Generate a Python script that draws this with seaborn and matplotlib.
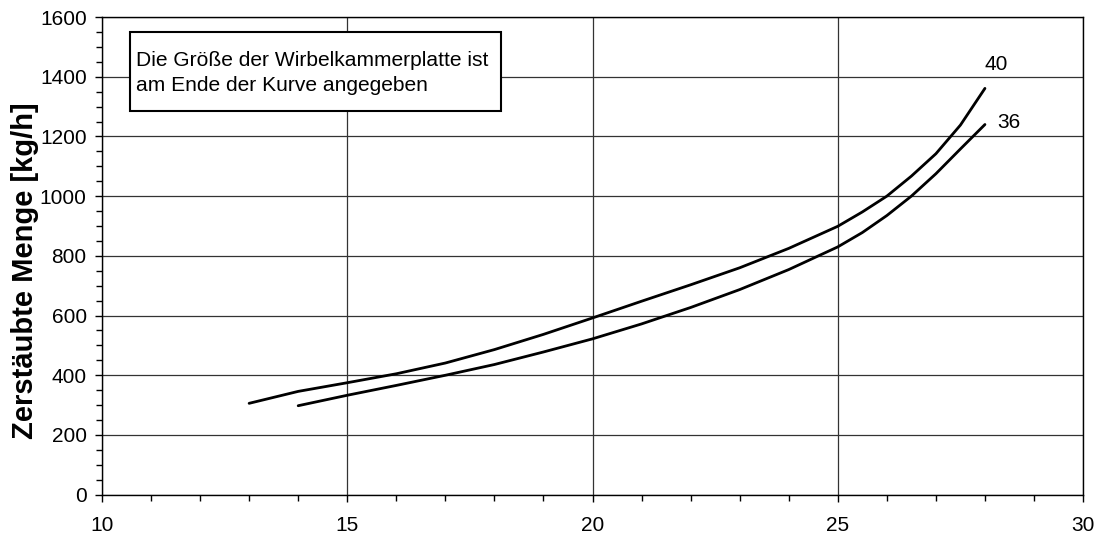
import matplotlib
matplotlib.use("Agg")
import matplotlib.pyplot as plt
from matplotlib.ticker import MultipleLocator
from matplotlib.patches import Rectangle
import seaborn as sns
import pandas as pd

# data
x40 = [13, 14, 15, 16, 17, 18, 19, 20, 21, 22, 23, 24, 25, 25.5, 26, 26.5, 27, 27.5, 28]
y40 = [306, 346, 375, 405, 441, 486, 537, 592, 648, 703, 760, 825, 899, 947, 1000, 1067, 1142, 1238, 1361]
x36 = [14, 15, 16, 17, 18, 19, 20, 21, 22, 23, 24, 25, 25.5, 26, 26.5, 27, 27.5, 28]
y36 = [298, 333, 366, 400, 436, 478, 522, 572, 627, 687, 754, 830, 878, 935, 1000, 1075, 1158, 1240]
labels = ["40", "36"]
note = "Die Größe der Wirbelkammerplatte ist\nam Ende der Kurve angegeben"
ylabel = "Zerstäubte Menge [kg/h]"

df = pd.concat([
    pd.DataFrame({"x": x40, "y": y40, "size": labels[0]}),
    pd.DataFrame({"x": x36, "y": y36, "size": labels[1]}),
])

sns.set_theme(style="white")
plt.rcParams["font.family"] = ["Liberation Sans", "DejaVu Sans"]

fig = plt.figure(figsize=(11.01, 5.37), dpi=100)
ax = fig.add_axes([0.0926, 0.0788, 0.8911, 0.8895])

sns.lineplot(data=df, x="x", y="y", units="size", estimator=None, sort=False,
             color="black", linewidth=2, ax=ax, legend=False)

ax.set_xlim(10, 30)
ax.set_ylim(0, 1600)
ax.xaxis.set_major_locator(MultipleLocator(5))
ax.xaxis.set_minor_locator(MultipleLocator(1))
ax.yaxis.set_major_locator(MultipleLocator(200))
ax.yaxis.set_minor_locator(MultipleLocator(50))
ax.grid(True, which="major", color="#333333", linewidth=0.9)
ax.set_axisbelow(True)
for s in ax.spines.values():
    s.set_color("black")
    s.set_linewidth(1.0)
ax.tick_params(which="both", direction="out", color="black", labelsize=15,
               labelcolor="black", bottom=True, left=True)
ax.tick_params(which="major", length=5, width=1)
ax.tick_params(which="minor", length=4, width=1)
ax.tick_params(axis="x", pad=10)
ax.tick_params(axis="y", pad=6)
ax.set_xlabel("")
ax.set_ylabel(ylabel, fontsize=21, fontweight="bold", color="black")
ax.yaxis.set_label_coords(-0.064, 0.468)

ax.text(28.0, 1440, labels[0], fontsize=15, ha="left", va="center", color="black")
ax.text(28.25, 1247, labels[1], fontsize=15, ha="left", va="center", color="black")

ax.add_patch(Rectangle((0.0285, 0.8032), 0.3782, 0.1654, transform=ax.transAxes,
                       facecolor="white", edgecolor="black", linewidth=1.5, zorder=5))
ax.text(0.0347, 0.8828, note, transform=ax.transAxes, fontsize=15.1, ha="left", va="center",
        linespacing=1.42, color="black", zorder=6)

fig.savefig("out.png", dpi=100)
